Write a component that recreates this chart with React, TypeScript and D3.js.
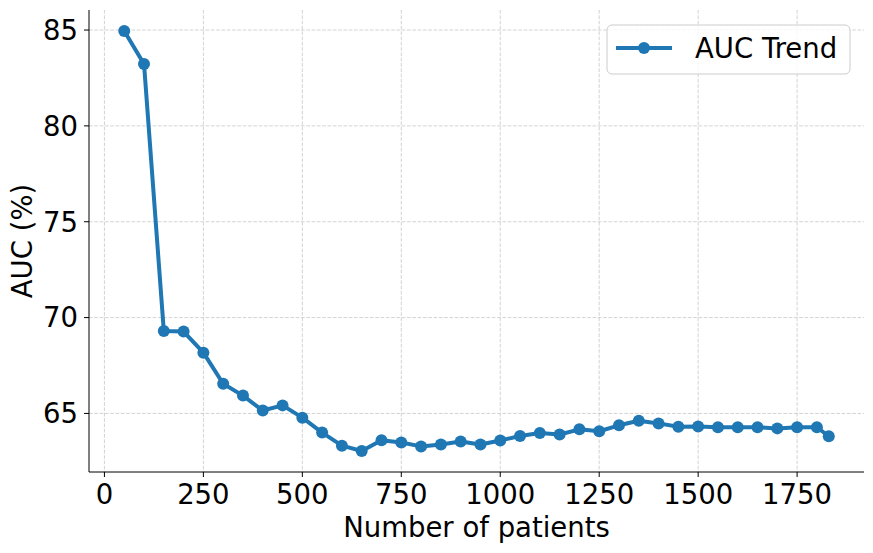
import React from "react";
import * as d3 from "d3";

const patients = [50,100,150,200,250,300,350,400,450,500,550,600,650,700,750,800,850,900,950,1000,1050,1100,1150,1200,1250,1300,1350,1400,1450,1500,1550,1600,1650,1700,1750,1800,1830];
const auc = [84.95,83.23,69.3,69.27,68.17,66.55,65.93,65.15,65.42,64.78,64.0,63.32,63.04,63.6,63.48,63.28,63.38,63.54,63.38,63.59,63.82,63.98,63.9,64.17,64.07,64.38,64.62,64.48,64.31,64.32,64.28,64.28,64.28,64.22,64.28,64.28,63.81];
const xTicks = [0,250,500,750,1000,1250,1500,1750];
const yTicks = [65,70,75,80,85];
const seriesName = "AUC Trend";

const W = 873, H = 553;
const M = { left: 89, right: 864, top: 10, bottom: 472 };
const COLOR = "#1f77b4";
const FONT = "DejaVu Sans, sans-serif";
const FS = 27.5;

export default function App() {
  const xMin = d3.min(patients)!, xMax = d3.max(patients)!;
  const yMin = d3.min(auc)!, yMax = d3.max(auc)!;
  const xPad = (xMax - xMin) * 0.05, yPad = (yMax - yMin) * 0.05;
  const x = d3.scaleLinear().domain([xMin - xPad, xMax + xPad]).range([M.left, M.right]);
  const y = d3.scaleLinear().domain([yMin - yPad, yMax + yPad]).range([M.bottom, M.top]);
  const pts = patients.map((p, i) => [p, auc[i]] as [number, number]);
  const line = d3.line<[number, number]>().x(d => x(d[0])).y(d => y(d[1]));

  const lx = 607, ly = 25, lw = 243, lh = 49;

  return (
    <svg width={W} height={H} style={{ position: "absolute", left: 0, top: 0, background: "#fff" }} fontFamily={FONT}>
      {xTicks.map(t => (
        <line key={"gx" + t} x1={x(t)} x2={x(t)} y1={M.top} y2={M.bottom} stroke="#b0b0b0" strokeOpacity={0.7} strokeDasharray="3.7,1.6" strokeWidth={0.8} />
      ))}
      {yTicks.map(t => (
        <line key={"gy" + t} x1={M.left} x2={M.right} y1={y(t)} y2={y(t)} stroke="#b0b0b0" strokeOpacity={0.7} strokeDasharray="3.7,1.6" strokeWidth={0.8} />
      ))}
      <path d={line(pts)!} fill="none" stroke={COLOR} strokeWidth={4} strokeLinejoin="round" strokeLinecap="round" />
      {pts.map((d, i) => (
        <circle key={i} cx={x(d[0])} cy={y(d[1])} r={6} fill={COLOR} />
      ))}
      <line x1={M.left} x2={M.left} y1={M.top} y2={M.bottom} stroke="#000" strokeWidth={1} />
      <line x1={M.left} x2={M.right} y1={M.bottom} y2={M.bottom} stroke="#000" strokeWidth={1} />
      {xTicks.map(t => (
        <g key={"xt" + t}>
          <line x1={x(t)} x2={x(t)} y1={M.bottom} y2={M.bottom + 5} stroke="#000" strokeWidth={1} />
          <text x={x(t)} y={504} textAnchor="middle" fontSize={FS} fill="#000">{t}</text>
        </g>
      ))}
      {yTicks.map(t => (
        <g key={"yt" + t}>
          <line x1={M.left - 5} x2={M.left} y1={y(t)} y2={y(t)} stroke="#000" strokeWidth={1} />
          <text x={M.left - 11} y={y(t)} dy="0.36em" textAnchor="end" fontSize={FS} fill="#000">{t}</text>
        </g>
      ))}
      <text x={(M.left + M.right) / 2} y={537} textAnchor="middle" fontSize={FS} fill="#000">Number of patients</text>
      <text transform={`translate(32,${(M.top + M.bottom) / 2}) rotate(-90)`} textAnchor="middle" fontSize={FS} fill="#000">AUC (%)</text>
      <rect x={lx} y={ly} width={lw} height={lh} rx={5} fill="#fff" fillOpacity={0.8} stroke="#cccccc" strokeWidth={1} />
      <line x1={lx + 9} x2={lx + 65} y1={ly + 23} y2={ly + 23} stroke={COLOR} strokeWidth={4} />
      <circle cx={lx + 37} cy={ly + 23} r={6} fill={COLOR} />
      <text x={lx + 88} y={ly + 23} dy="0.36em" fontSize={FS} fill="#000">{seriesName}</text>
    </svg>
  );
}
